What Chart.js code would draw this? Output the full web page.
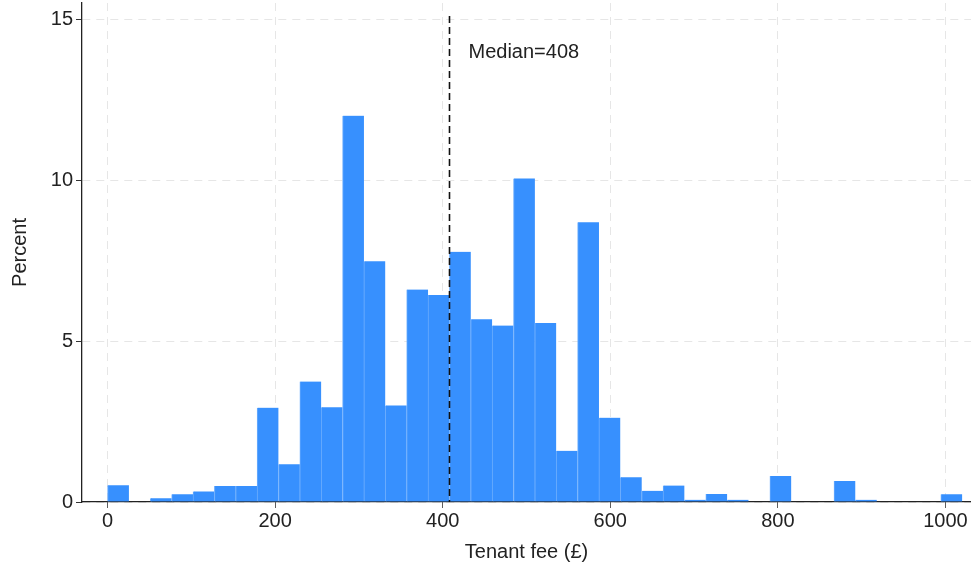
<!DOCTYPE html>
<html>
<head>
<meta charset="utf-8">
<title>Tenant fee histogram</title>
<script src="https://cdn.jsdelivr.net/npm/chart.js@4"></script>
<style>
    html, body { margin: 0; padding: 0; background: #fff; }
    #wrap { width: 971px; height: 565px; }
</style>
</head>
<body>
<div id="wrap"><canvas id="fee-chart" width="971" height="565"></canvas></div>
<script>
/* ============================================= */
/*                    Data                       */
/* ============================================= */

// bin centres (bin width 25.5, first bin 0 - 25.5)
const binCentres = [
    12.75, 38.25, 63.75, 89.25, 114.75, 140.25, 165.75, 191.25, 216.75, 242.25,
    267.75, 293.25, 318.75, 344.25, 369.75, 395.25, 420.75, 446.25, 471.75, 497.25,
    522.75, 548.25, 573.75, 599.25, 624.75, 650.25, 675.75, 701.25, 726.75, 752.25,
    777.75, 803.25, 828.75, 854.25, 879.75, 905.25, 930.75, 956.25, 981.75, 1007.25
];

// percent of tenants in each bin
const percents = [
    0.52, 0, 0.12, 0.24, 0.33, 0.50, 0.50, 2.93, 1.17, 3.74,
    2.94, 12.0, 7.48, 3.0, 6.6, 6.43, 7.77, 5.68, 5.48, 10.05,
    5.56, 1.59, 8.69, 2.62, 0.77, 0.35, 0.51, 0.07, 0.25, 0.07,
    0, 0.81, 0, 0, 0.65, 0.07, 0, 0, 0, 0.24
];

const xTickStep = 200;   // 0, 200, ... 1000
const yTickStep = 5;     // 0, 5, 10, 15
const medianFee = 408;

/* ============================================= */
/*                Median line                    */
/* ============================================= */

const medianLine = {
    id: 'medianLine',
    afterDatasetsDraw(chart) {
        const ctx = chart.ctx;
        const x = Math.round(chart.scales.x.getPixelForValue(medianFee)) + 0.5;
        const area = chart.chartArea;
        ctx.save();
        ctx.strokeStyle = '#111';
        ctx.lineWidth = 1.6;
        ctx.setLineDash([7, 4]);
        ctx.beginPath();
        ctx.moveTo(x, area.top + 13);
        ctx.lineTo(x, area.bottom);
        ctx.stroke();
        ctx.setLineDash([]);
        ctx.fillStyle = '#222';
        ctx.font = '20px "Liberation Sans", Arial, sans-serif';
        ctx.textBaseline = 'middle';
        ctx.fillText('Median=' + medianFee, x + 19, 52);
        ctx.restore();
    }
};

/* ============================================= */
/*                  Histogram                    */
/* ============================================= */

const feeCanvas = document.getElementById('fee-chart');
const tickFont = { family: '"Liberation Sans", Arial, sans-serif', size: 20 };

const gridStyle = {
    color: '#e6e6e6',
    tickColor: '#333',
    tickLength: 6,
    tickBorderDash: [1, 0],
    lineWidth: 1,
    offset: false
};

let feeChart = new Chart(feeCanvas, {
    type: 'bar',
    data: {
        datasets: [{
            data: binCentres.map((c, i) => ({ x: c, y: percents[i] })),
            backgroundColor: '#3790fe',
            borderColor: '#6aacfd',
            borderWidth: { left: 1, right: 0, top: 0, bottom: 0 },
            borderSkipped: false,
            barPercentage: 1,
            categoryPercentage: 1
        }]
    },
    options: {
        responsive: false,
        animation: false,
        layout: { padding: { top: 3, right: 0, left: 0, bottom: 0 } },
        plugins: {
            legend: { display: false },
            tooltip: { enabled: false }
        },
        scales: {
            x: {
                type: 'linear',
                offset: false,
                min: -30.5,
                max: 1030.5,
                afterFit: axis => { axis.height = 63; },
                ticks: {
                    stepSize: xTickStep,
                    includeBounds: false,
                    font: tickFont,
                    color: '#222',
                    padding: 1,
                    maxRotation: 0,
                    callback: v => String(v)
                },
                grid: gridStyle,
                border: { color: '#222', width: 1.3, dash: [8, 6] },
                title: {
                    display: true,
                    text: 'Tenant fee (£)',
                    font: tickFont,
                    color: '#222',
                    padding: { top: 2, bottom: 1 }
                }
            },
            y: {
                min: 0,
                max: 15.5,
                afterFit: axis => {
                    axis.width = 82;
                    // no extra room for the top tick label
                    axis.paddingTop = 0;
                    axis.paddingBottom = 0;
                },
                ticks: {
                    stepSize: yTickStep,
                    includeBounds: false,
                    font: tickFont,
                    color: '#222',
                    padding: 3,
                    callback: v => String(v)
                },
                grid: gridStyle,
                border: { color: '#222', width: 1.3, dash: [8, 6] },
                title: {
                    display: true,
                    text: 'Percent',
                    font: tickFont,
                    color: '#222',
                    padding: { top: 8, bottom: 10 }
                }
            }
        }
    },
    plugins: [medianLine]
});
</script>
</body>
</html>
